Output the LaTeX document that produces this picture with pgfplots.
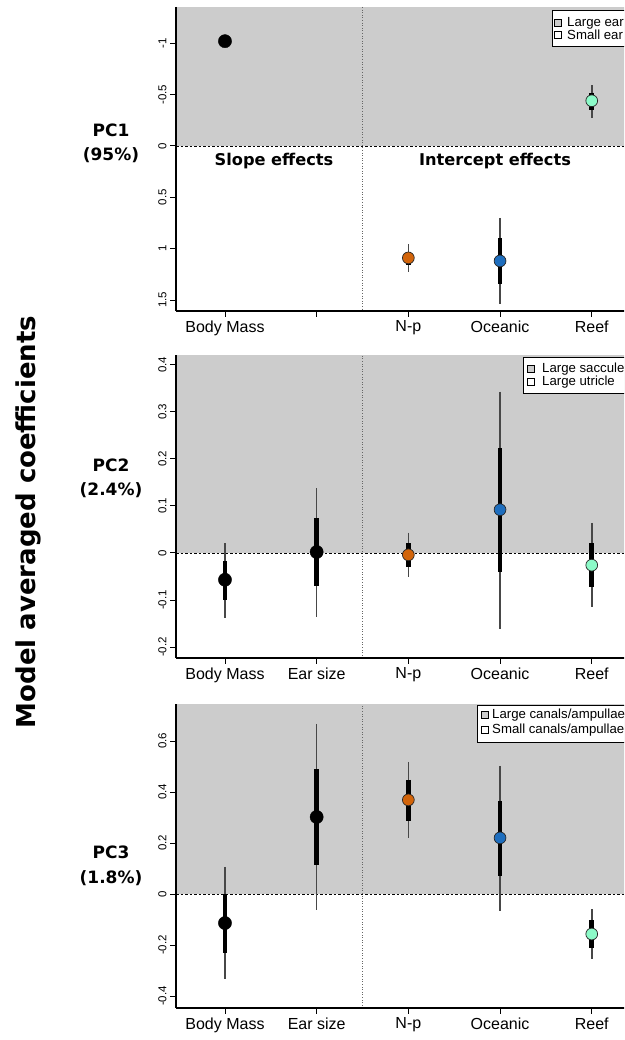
\documentclass[border=0pt]{standalone}
\usepackage{pgfplots}
\pgfplotsset{compat=1.18}
\usepackage{fontspec}
\setmainfont{Liberation Sans}
\newfontfamily\vb{DejaVu Sans}
\definecolor{bg}{gray}{0.8}
\definecolor{cNp}{RGB}{210,100,10}
\definecolor{cOc}{RGB}{30,110,190}
\definecolor{cRf}{RGB}{140,250,200}
\pgfplotsset{
 panel/.style={
  scale only axis, width=464.7pt, height=304pt,
  xmin=0.466, xmax=5.534,
  axis x line*=bottom, axis y line*=left,
  axis line style={line width=1.2pt},
  every tick/.style={line width=0.9pt, black},
  tick align=outside, major tick length=6pt,
  xtick={1,2,3,4,5},
  xticklabel style={font=\fontsize{16}{16}\selectfont},
  yticklabel style={font=\fontsize{11.5}{12}\selectfont, rotate=90, anchor=south},
  /pgf/number format/assume math mode=true,
  axis on top, clip=false, anchor=south west,
 },
 thinb/.style={black!72, line width=1.6pt, unbounded coords=jump, mark=none},
 thickb/.style={black, line width=4.6pt, unbounded coords=jump, mark=none},
 blk/.style={only marks, mark=*, mark size=6.6pt, mark options={fill=black, draw=black}},
 col/.style={only marks, mark=*, mark size=5.9pt, mark options={fill=#1, draw=black!85, line width=0.7pt}},
}
\begin{document}
\begin{tikzpicture}[x=1pt,y=1pt]
\path[use as bounding box] (0pt,0pt) rectangle (624pt,1040pt);
\clip (0pt,0pt) rectangle (624pt,1040pt);

% ---------- Panel 1 ----------
\begin{axis}[panel, at={(176pt,729pt)}, y dir=reverse,
  ymin=-1.353, ymax=1.607,
  ytick={-1,-0.5,0,0.5,1,1.5},
  xticklabels={Body Mass,{},N-p,Oceanic,Reef}]
\fill[bg] (axis cs:0.466,-1.353) rectangle (axis cs:5.534,0);
\draw[black!60, dotted, line width=0.6pt] (axis cs:2.5,-1.353) -- (axis cs:2.5,1.607);
\draw[black, dash pattern=on 2.5pt off 2pt, line width=0.6pt] (axis cs:0.466,0) -- (axis cs:5.534,0);
\addplot[thinb] coordinates {(3,0.955) (3,1.227) (3,nan) (4,0.70) (4,1.54) (4,nan) (5,-0.59) (5,-0.27)};
\addplot[thickb] coordinates {(3,1.03) (3,1.16) (3,nan) (4,0.90) (4,1.34) (4,nan) (5,-0.52) (5,-0.35)};
\addplot[blk] coordinates {(1,-1.02)};
\addplot[col=cNp] coordinates {(3,1.09)};
\addplot[col=cOc] coordinates {(4,1.12)};
\addplot[col=cRf] coordinates {(5,-0.44)};
\end{axis}

% ---------- Panel 2 ----------
\begin{axis}[panel, at={(176pt,382pt)},
  ymin=-0.2234, ymax=0.421, height=303pt,
  ytick={-0.2,-0.1,0,0.1,0.2,0.3,0.4},
  xticklabels={Body Mass,Ear size,N-p,Oceanic,Reef}]
\fill[bg] (axis cs:0.466,0) rectangle (axis cs:5.534,0.421);
\draw[black!60, dotted, line width=0.6pt] (axis cs:2.5,-0.2234) -- (axis cs:2.5,0.421);
\draw[black, dash pattern=on 2.5pt off 2pt, line width=0.6pt] (axis cs:0.466,0) -- (axis cs:5.534,0);
\addplot[thinb] coordinates {(1,0.021) (1,-0.138) (1,nan) (2,0.138) (2,-0.136) (2,nan) (3,0.043) (3,-0.051) (3,nan) (4,0.343) (4,-0.162) (4,nan) (5,0.064) (5,-0.115)};
\addplot[thickb] coordinates {(1,-0.017) (1,-0.100) (1,nan) (2,0.074) (2,-0.070) (2,nan) (3,0.021) (3,-0.030) (3,nan) (4,0.223) (4,-0.040) (4,nan) (5,0.021) (5,-0.072)};
\addplot[blk] coordinates {(1,-0.057) (2,0.002)};
\addplot[col=cNp] coordinates {(3,-0.004)};
\addplot[col=cOc] coordinates {(4,0.092)};
\addplot[col=cRf] coordinates {(5,-0.026)};
\end{axis}

% ---------- Panel 3 ----------
\begin{axis}[panel, at={(176pt,32pt)},
  ymin=-0.447, ymax=0.745,
  ytick={-0.4,-0.2,0,0.2,0.4,0.6},
  xticklabels={Body Mass,Ear size,N-p,Oceanic,Reef}]
\fill[bg] (axis cs:0.466,0) rectangle (axis cs:5.534,0.745);
\draw[black!60, dotted, line width=0.6pt] (axis cs:2.5,-0.447) -- (axis cs:2.5,0.745);
\draw[black, dash pattern=on 2.5pt off 2pt, line width=0.6pt] (axis cs:0.466,0) -- (axis cs:5.534,0);
\addplot[thinb] coordinates {(1,0.106) (1,-0.333) (1,nan) (2,0.667) (2,-0.063) (2,nan) (3,0.518) (3,0.220) (3,nan) (4,0.502) (4,-0.067) (4,nan) (5,-0.059) (5,-0.255)};
\addplot[thickb] coordinates {(1,0.0) (1,-0.231) (1,nan) (2,0.49) (2,0.114) (2,nan) (3,0.447) (3,0.286) (3,nan) (4,0.365) (4,0.071) (4,nan) (5,-0.102) (5,-0.212)};
\addplot[blk] coordinates {(1,-0.114) (2,0.302)};
\addplot[col=cNp] coordinates {(3,0.369)};
\addplot[col=cOc] coordinates {(4,0.22)};
\addplot[col=cRf] coordinates {(5,-0.157)};
\end{axis}

% ---------- Texts ----------
\node[font=\vb\bfseries\fontsize{16.2}{16}\selectfont] at (274pt,879pt) {Slope effects};
\node[font=\vb\bfseries\fontsize{16.2}{16}\selectfont] at (495pt,879pt) {Intercept effects};

\node[rotate=90, font=\vb\bfseries\fontsize{26}{26}\selectfont] at (28pt,518pt) {Model averaged coefficients};

\foreach \ya/\yb/\ta/\tb in {910/885/PC1/(95\%), 575/550/PC2/(2.4\%), 188/162/PC3/(1.8\%)}{
  \node[font=\vb\bfseries\fontsize{17}{17}\selectfont] at (111pt,\ya pt) {\ta};
  \node[font=\vb\bfseries\fontsize{17}{17}\selectfont] at (111pt,\yb pt) {\tb};
}

% ---------- Legends ----------
\begin{scope}[font=\fontsize{13.2}{13}\selectfont]
\draw[fill=white, line width=0.6pt] (552pt,1030pt) rectangle (660pt,994pt);
\draw[fill=bg, line width=0.5pt] (554pt,1014pt) rectangle (561pt,1021pt);
\draw[fill=white, line width=0.5pt] (554pt,1002pt) rectangle (561pt,1009pt);
\node[anchor=west, inner sep=0pt] at (567pt,1017pt) {Large ear};
\node[anchor=west, inner sep=0pt] at (567pt,1005pt) {Small ear};

\draw[fill=white, line width=0.6pt] (523pt,683pt) rectangle (660pt,647pt);
\draw[fill=bg, line width=0.5pt] (527pt,668pt) rectangle (534pt,675pt);
\draw[fill=white, line width=0.5pt] (527pt,655pt) rectangle (534pt,662pt);
\node[anchor=west, inner sep=0pt] at (542pt,671pt) {Large saccule};
\node[anchor=west, inner sep=0pt] at (542pt,658pt) {Large utricle};

\draw[fill=white, line width=0.6pt] (477pt,335pt) rectangle (660pt,298pt);
\draw[fill=bg, line width=0.5pt] (481pt,322pt) rectangle (488pt,329pt);
\draw[fill=white, line width=0.5pt] (481pt,307pt) rectangle (488pt,314pt);
\node[anchor=west, inner sep=0pt] at (492pt,325pt) {Large canals/ampullae};
\node[anchor=west, inner sep=0pt] at (492pt,310pt) {Small canals/ampullae};
\end{scope}
\end{tikzpicture}
\end{document}
